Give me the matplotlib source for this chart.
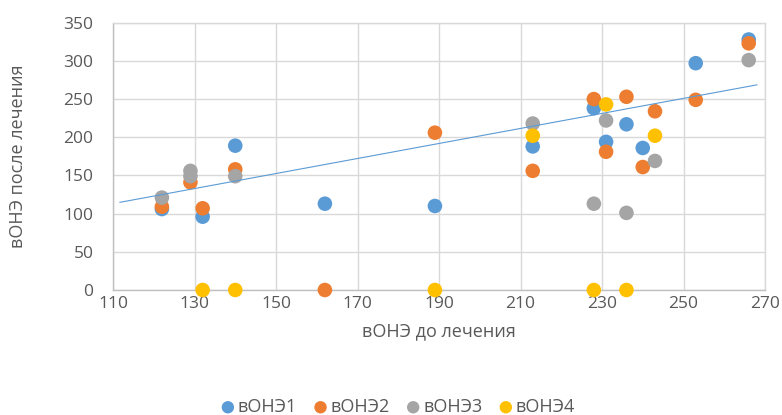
import matplotlib
matplotlib.use("Agg")
import matplotlib.pyplot as plt
import numpy as np

plt.rcParams['font.family'] = ['Open Sans', 'DejaVu Sans']

# Pre-treatment (x) and post-treatment (y) values per group
x1 = [122, 132, 140, 162, 189, 213, 228, 231, 236, 240, 253, 266]
y1 = [106, 96, 189, 113, 110, 188, 238, 194, 217, 186, 297, 328]

x2 = [122, 129, 132, 140, 162, 189, 213, 228, 231, 236, 240, 243, 253, 266]
y2 = [109, 141, 107, 158, 0, 206, 156, 250, 181, 253, 161, 234, 249, 323]

x3 = [122, 129, 129, 140, 213, 228, 231, 236, 243, 266]
y3 = [121, 149, 156, 149, 218, 113, 222, 101, 169, 301]

x4 = [132, 140, 189, 213, 228, 231, 236, 243]
y4 = [0, 0, 0, 202, 0, 243, 0, 202]

series_names = ['вОНЭ1', 'вОНЭ2', 'вОНЭ3', 'вОНЭ4']
colors = ['#5B9BD5', '#ED7D31', '#A5A5A5', '#FFC000']

# Linear trend line (slope, intercept) and its extent on x
trend_coef = [0.984, 4.9]
trend_range = [111.7, 268]

x_ticks = list(range(110, 271, 20))
y_ticks = list(range(0, 351, 50))

fig = plt.figure(figsize=(7.82, 4.15), dpi=100)
ax = fig.add_axes([113 / 782, 1 - 290 / 415, (765 - 113) / 782, (290 - 22.7) / 415])

text_color = '#595959'
grid_color = '#D9D9D9'

for xs, ys, c, name in zip([x1, x2, x3, x4], [y1, y2, y3, y4], colors, series_names):
    ax.scatter(xs, ys, s=110, color=c, edgecolors='none', label=name, zorder=3,
               clip_on=False)

tx = np.array(trend_range)
ax.plot(tx, np.polyval(trend_coef, tx), color='#5B9BD5', linewidth=0.8, zorder=4)

ax.set_xlim(110, 270)
ax.set_ylim(0, 350)
ax.set_xticks(x_ticks)
ax.set_yticks(y_ticks)
ax.grid(True, color=grid_color, linewidth=1.0, zorder=0)
ax.set_axisbelow(True)
for side in ['left', 'bottom', 'right', 'top']:
    ax.spines[side].set_color(grid_color)
    ax.spines[side].set_linewidth(1.0)
ax.spines['bottom'].set_color('#BFBFBF')
ax.spines['left'].set_color('#BFBFBF')
ax.tick_params(axis='x', length=0, labelsize=12.5, colors=text_color, pad=4)
ax.tick_params(axis='y', length=0, labelsize=12.5, colors=text_color, pad=14)

ax.set_xlabel('вОНЭ до лечения', fontsize=13, color=text_color, labelpad=8)
ax.set_ylabel('вОНЭ после лечения', fontsize=13, color=text_color)
ax.yaxis.set_label_coords(27 / 782, 1 - 156.4 / 415, transform=fig.transFigure)

leg = fig.legend(loc='center', bbox_to_anchor=(397 / 782, 1 - 407 / 415), ncol=4,
                 frameon=False, fontsize=13, handletextpad=0.05, columnspacing=0.8,
                 markerscale=0.85, handlelength=1.0)
for t in leg.get_texts():
    t.set_color(text_color)

fig.savefig('out.png', dpi=100)
